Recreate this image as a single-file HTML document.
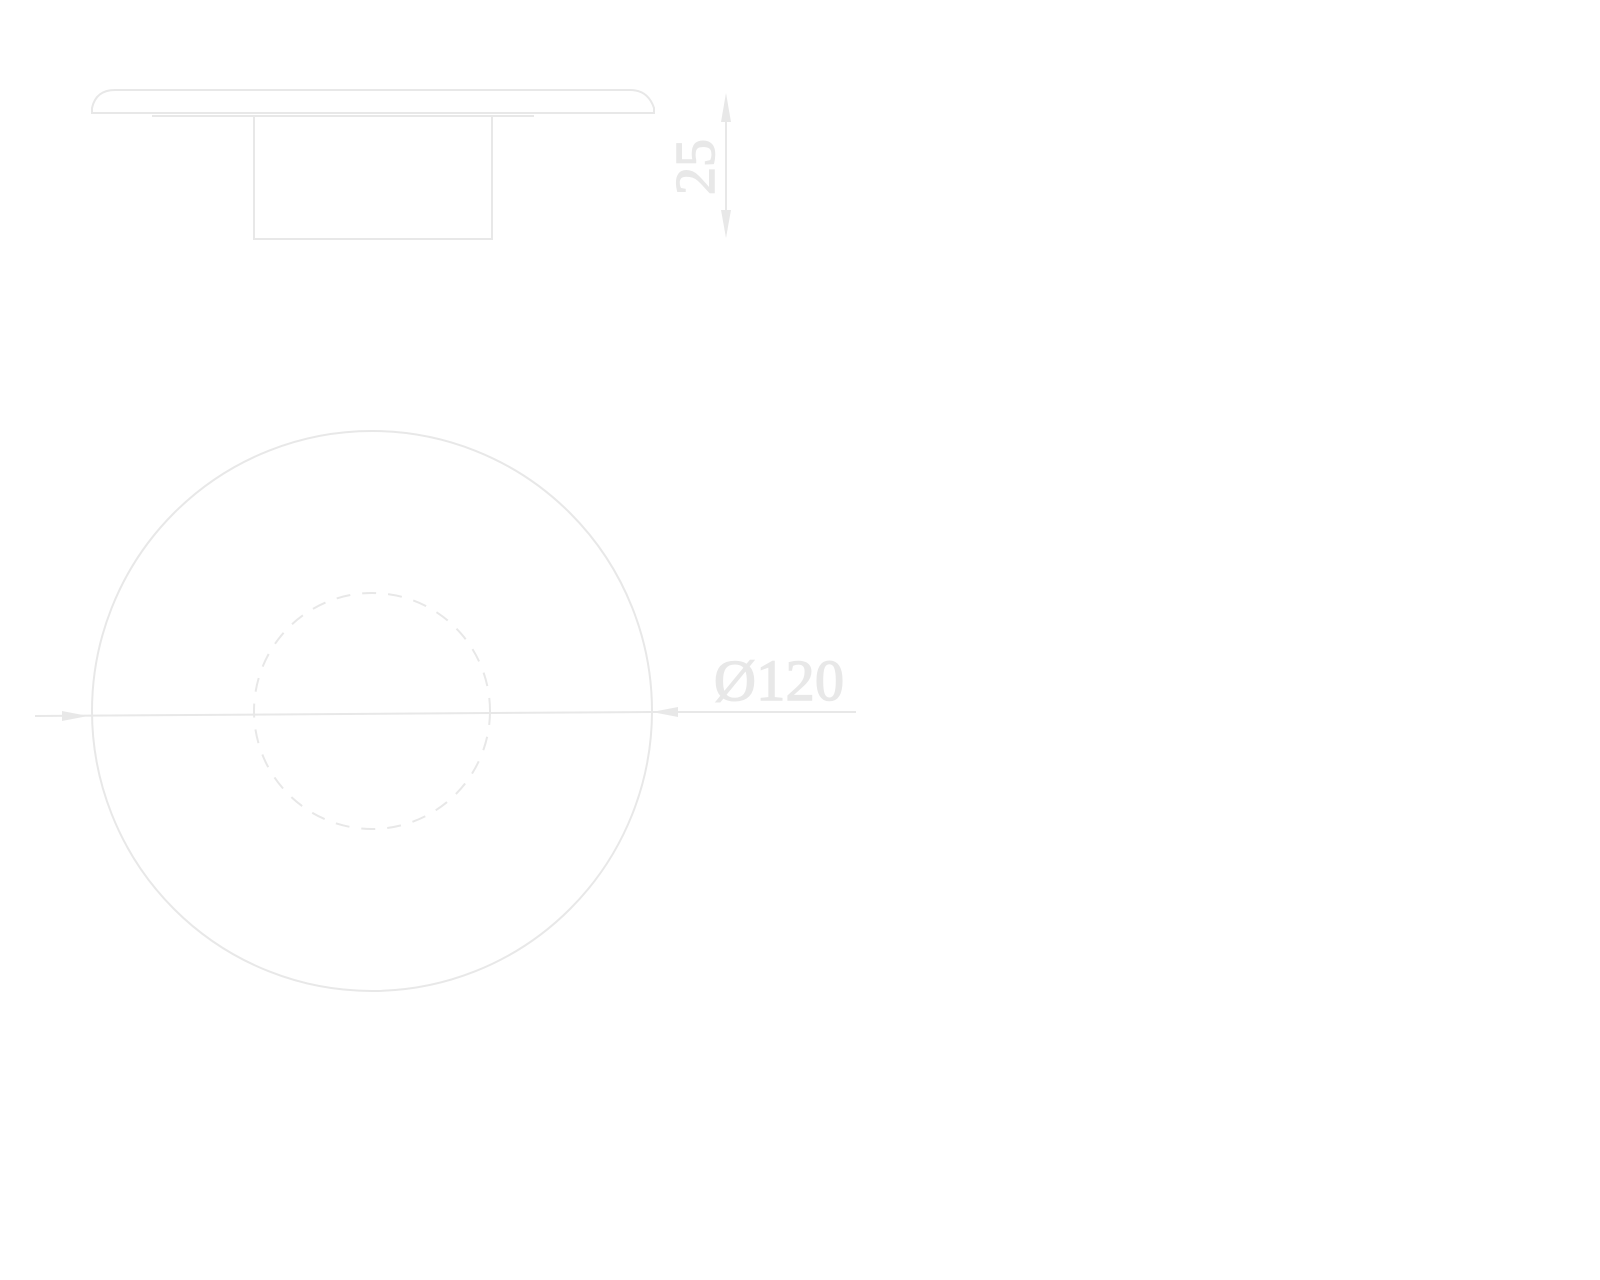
<!DOCTYPE html>
<html><head><meta charset="utf-8"><style>html,body{margin:0;padding:0;background:#fff;}svg{display:block}</style></head>
<body>
<svg width="1600" height="1280" viewBox="0 0 1600 1280" xmlns="http://www.w3.org/2000/svg">
<g fill="none" stroke="#e8e8e8" stroke-width="2">
<path d="M92,113 L92,108 Q96,90 115,90 L630,90 Q648,90 654,108 L654,113 Z"/>
<line x1="152" y1="116" x2="534" y2="116"/>
<rect x="254" y="116" width="238" height="123"/>
<line x1="726" y1="110" x2="726" y2="222"/>
<circle cx="372" cy="711" r="280"/>
<circle cx="372" cy="711" r="118" stroke-dasharray="14,12"/>
<line x1="35" y1="716" x2="652" y2="712"/>
<line x1="652" y1="712" x2="856" y2="712"/>
</g>
<g fill="#e8e8e8">
<polygon points="726,93 721,122 731,122"/>
<polygon points="726,238 721,210 731,210"/>
<polygon points="88,716 62,711 62,721"/>
<polygon points="652,712 678,707 678,717"/>
</g>
<text x="0" y="0" transform="translate(714,167) rotate(-90)" text-anchor="middle" font-family="Liberation Serif, serif" font-size="56" fill="#e8e8e8" stroke="#e8e8e8" stroke-width="1.5">25</text>
<text x="714" y="700" textLength="130" font-family="Liberation Serif, serif" font-size="58" fill="#e8e8e8" stroke="#e8e8e8" stroke-width="1.5">Ø120</text>
</svg>
</body></html>
